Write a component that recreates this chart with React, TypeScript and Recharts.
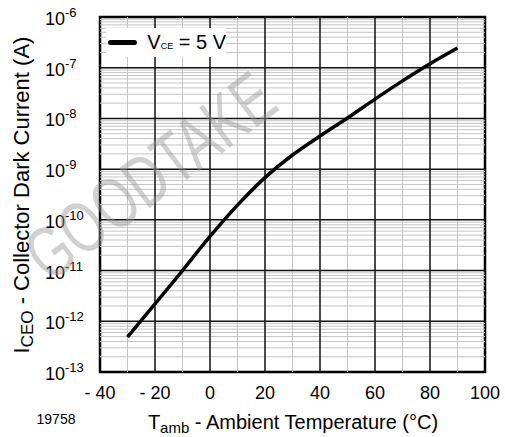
import {
  Line,
  LineChart,
  ReferenceArea,
  ReferenceLine,
  XAxis,
  YAxis,
} from "recharts";

// I_CEO vs ambient temperature, V_CE = 5 V
const temperatures = [-30, -20, -10, 0, 10, 20, 30, 40, 50, 60, 70, 80, 90];
const darkCurrent = [
  4.9e-13, 2.2e-12, 1.0e-11, 4.7e-11, 1.95e-10, 6.8e-10, 1.9e-9, 4.5e-9,
  1.02e-8, 2.4e-8, 5.5e-8, 1.2e-7, 2.45e-7,
];

const xTicks = [-40, -20, 0, 20, 40, 60, 80, 100];
const xMinor = [-30, -10, 10, 30, 50, 70, 90];
const yTicks = [1e-13, 1e-12, 1e-11, 1e-10, 1e-9, 1e-8, 1e-7, 1e-6];
const mantissas = [2, 3, 4, 5, 6, 7, 8, 9];

const data = temperatures.map((t, i) => ({ t, ic: darkCurrent[i] }));
const yMinor = yTicks
  .slice(0, -1)
  .flatMap((d) => mantissas.map((m) => m * d));

const FONT = "'Liberation Sans', Arial, sans-serif";

function XTick(props: any) {
  const { x, y, payload } = props;
  const v = payload.value as number;
  const label = v < 0 ? `- ${Math.abs(v)}` : `${v}`;
  return (
    <text x={x} y={y + 25} textAnchor="middle" fontSize={18} fill="#000" fontFamily={FONT}>
      {label}
    </text>
  );
}

function YTick(props: any) {
  const { x, y, payload } = props;
  const exp = Math.round(Math.log10(payload.value));
  return (
    <text x={x - 53} y={y + 8} textAnchor="start" fontSize={18} fill="#000" fontFamily={FONT}>
      <tspan>10</tspan>
      <tspan dy={-8} fontSize={13}>
        {exp}
      </tspan>
    </text>
  );
}

export default function App() {
  return (
    <div style={{ position: "absolute", left: 0, top: 0, width: 505, height: 437, background: "#fff", fontFamily: FONT }}>
      <LineChart
        width={505}
        height={437}
        data={data}
        margin={{ top: 17, right: 20, bottom: 0, left: 0 }}
      >
        <XAxis
          dataKey="t"
          type="number"
          domain={[-40, 100]}
          ticks={xTicks}
          tick={<XTick />}
          tickLine={false}
          axisLine={false}
          tickSize={0}
          height={65}
          allowDataOverflow
        />
        <YAxis
          scale="log"
          domain={[1e-13, 1e-6]}
          ticks={yTicks}
          tick={<YTick />}
          tickLine={false}
          axisLine={false}
          tickSize={0}
          width={100}
          allowDataOverflow
        />
        {yMinor.map((v) => (
          <ReferenceLine key={`ym${v}`} y={v} stroke="#c4c4c4" strokeWidth={1} />
        ))}
        {xMinor.map((v) => (
          <ReferenceLine key={`xm${v}`} x={v} stroke="#c4c4c4" strokeWidth={1} />
        ))}
        {yTicks.slice(1, -1).map((v) => (
          <ReferenceLine key={`yM${v}`} y={v} stroke="#111" strokeWidth={1.5} />
        ))}
        {xTicks.slice(1, -1).map((v) => (
          <ReferenceLine key={`xM${v}`} x={v} stroke="#111" strokeWidth={1.5} />
        ))}
        <ReferenceArea
          x1={-40}
          x2={100}
          y1={1e-13}
          y2={1e-6}
          fill="none"
          fillOpacity={0}
          stroke="#000"
          strokeWidth={2.5}
        />
        <Line
          type="monotone"
          dataKey="ic"
          stroke="#000"
          strokeWidth={3.5}
          dot={false}
          isAnimationActive={false}
        />
      </LineChart>

      {/* legend */}
      <div
        style={{
          position: "absolute",
          left: 106,
          top: 28,
          width: 120,
          height: 29,
          background: "#fff",
          display: "flex",
          alignItems: "center",
        }}
      >
        <div style={{ width: 32, height: 5, background: "#000", borderRadius: 3, marginLeft: 2, marginRight: 10 }} />
        <span style={{ fontSize: 20, whiteSpace: "nowrap" }}>
          V<span style={{ fontSize: 9 }}>CE</span> = 5 V
        </span>
      </div>

      {/* watermark */}
      <div style={{ position: "absolute", left: 150, top: 176, width: 0, height: 0, pointerEvents: "none" }}>
        <div
          style={{
            position: "absolute",
            left: 0,
            top: 0,
            fontSize: 52,
            color: "rgba(150,150,150,0.45)",
            whiteSpace: "nowrap",
            transform: "translate(-50%, -50%) rotate(-37deg) scale(1, 1.4)",
          }}
        >
          GOODTAKE
        </div>
      </div>

      {/* axis titles */}
      <div
        style={{
          position: "absolute",
          left: 293,
          top: 422,
          transform: "translate(-50%, -50%)",
          fontSize: 20,
          whiteSpace: "nowrap",
        }}
      >
        T<span style={{ fontSize: 15, position: "relative", top: 4 }}>amb</span> - Ambient Temperature (°C)
      </div>
      <div
        style={{
          position: "absolute",
          left: 22,
          top: 195,
          transform: "translate(-50%, -50%) rotate(-90deg)",
          fontSize: 22,
          whiteSpace: "nowrap",
        }}
      >
        I<span style={{ fontSize: 17, position: "relative", top: 4 }}>CEO</span> - Collector Dark Current (A)
      </div>
      <div
        style={{
          position: "absolute",
          left: 56,
          top: 419,
          transform: "translate(-50%, -50%)",
          fontSize: 14,
          whiteSpace: "nowrap",
        }}
      >
        19758
      </div>
    </div>
  );
}
